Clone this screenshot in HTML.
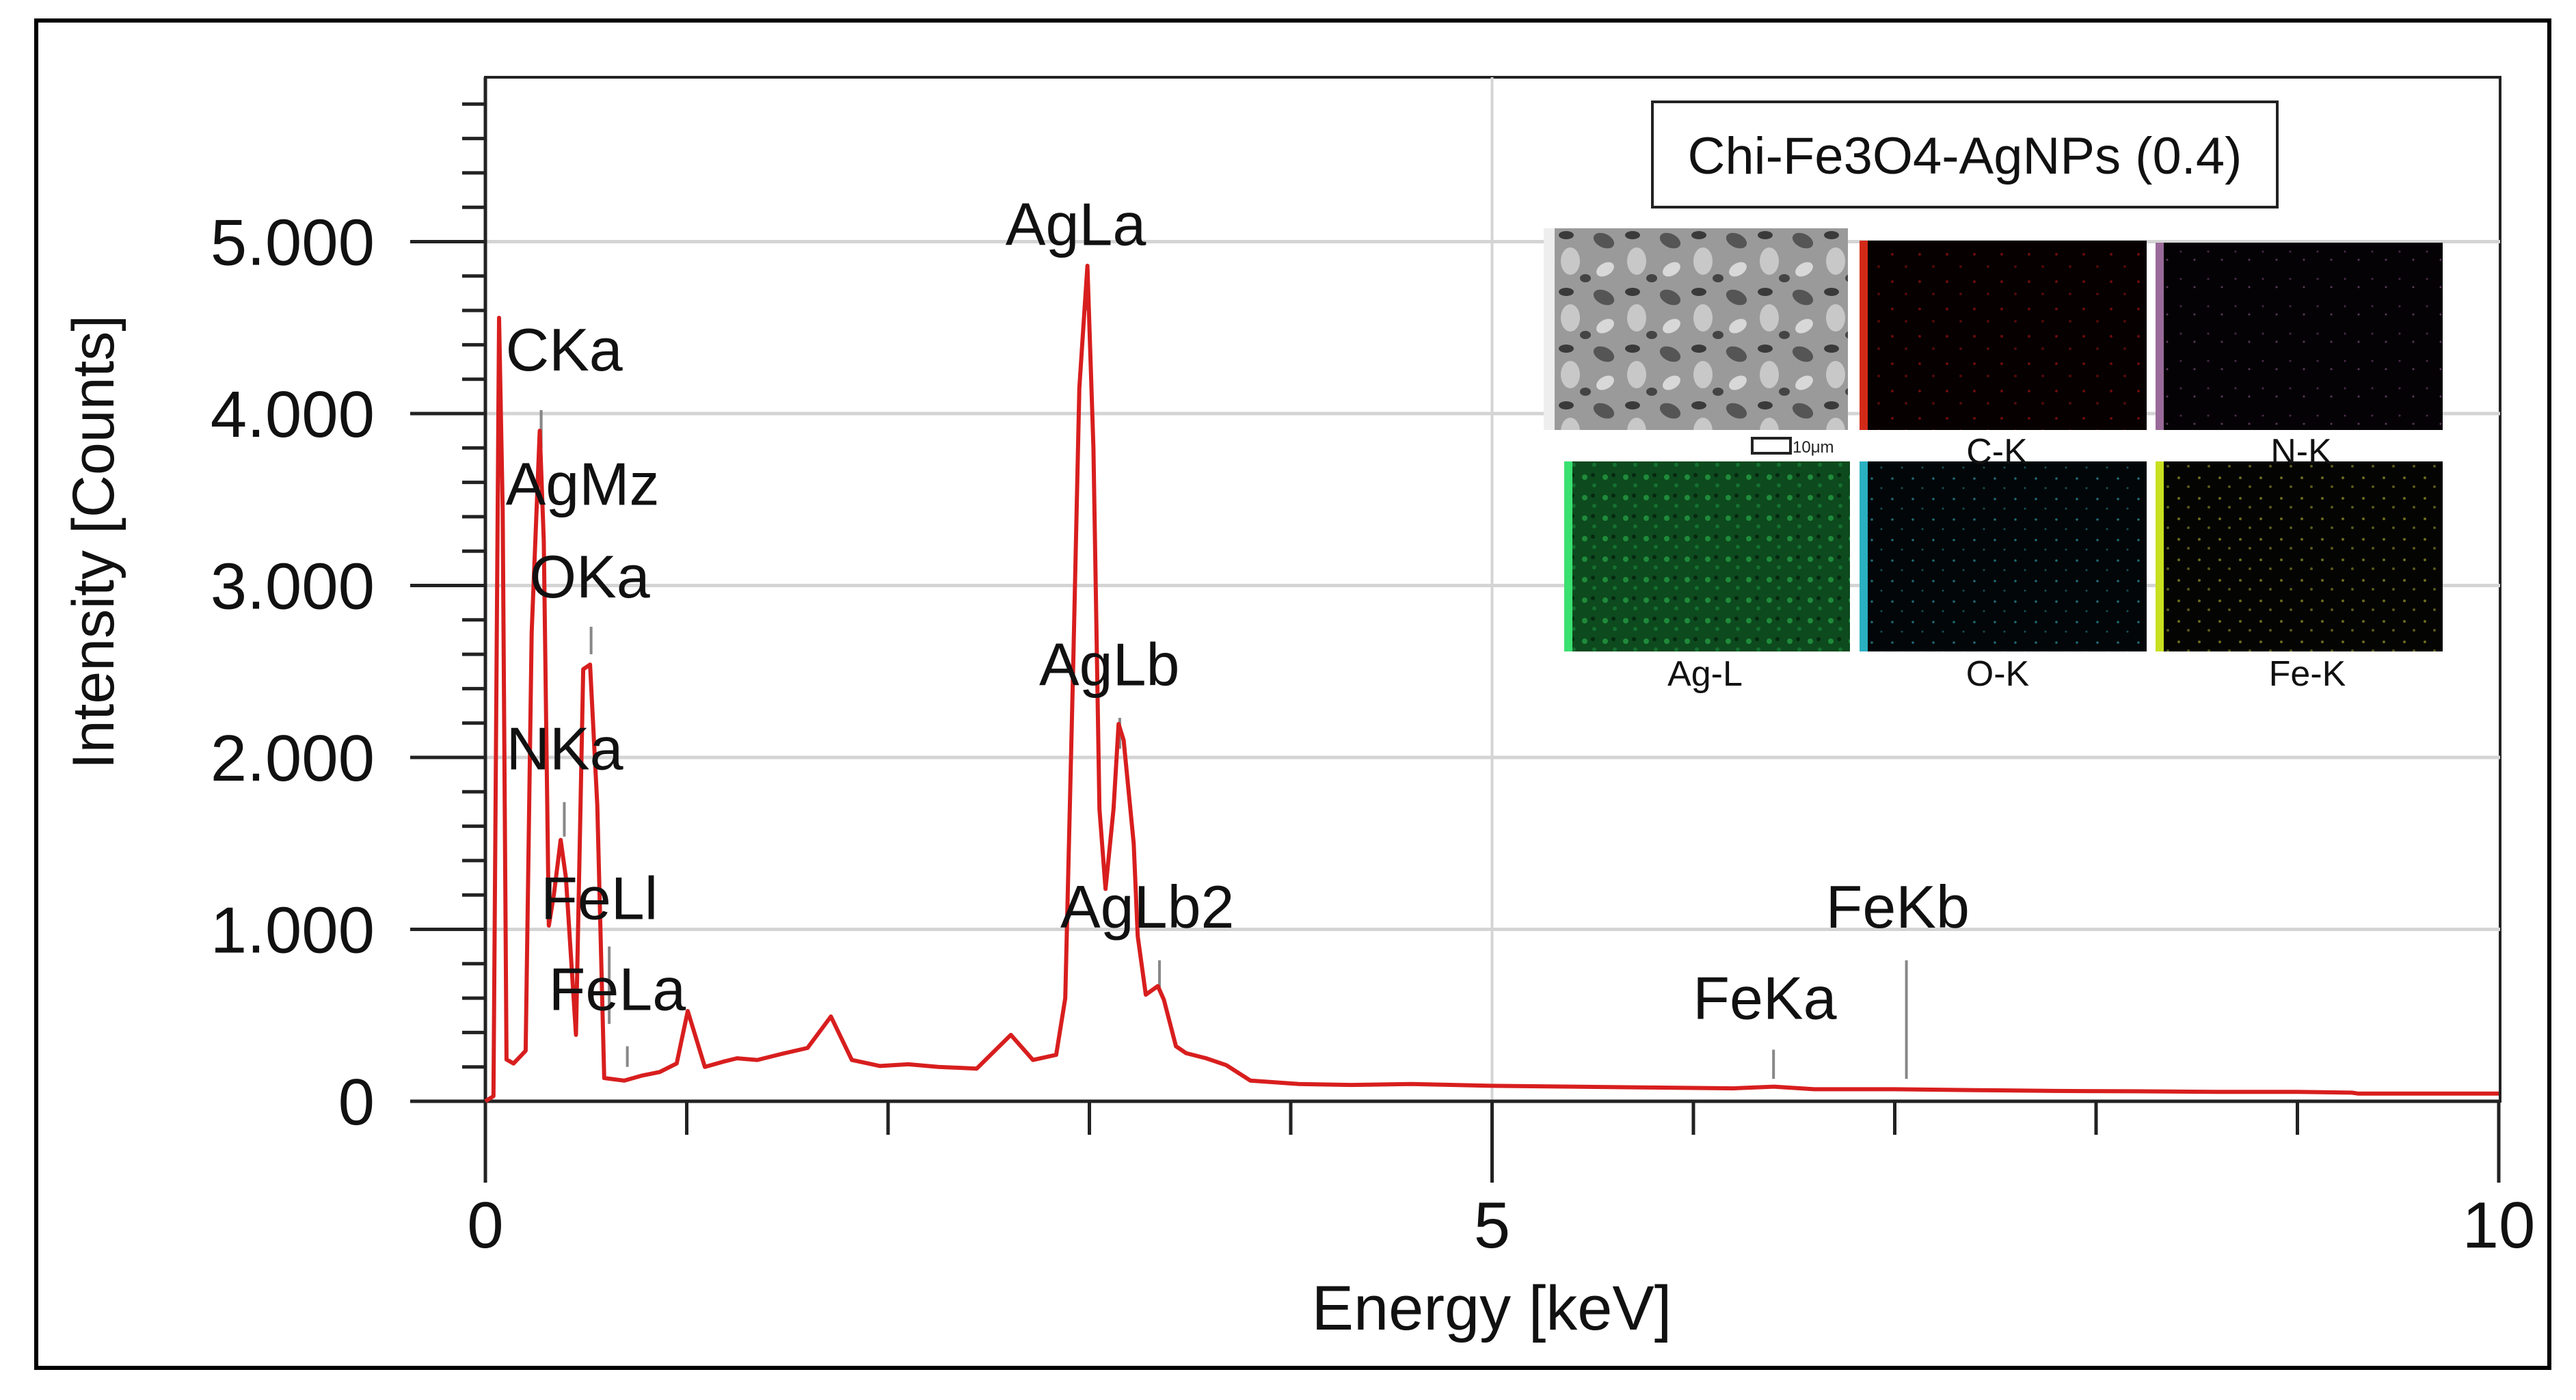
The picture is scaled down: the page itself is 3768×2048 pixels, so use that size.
<!DOCTYPE html>
<html><head><meta charset="utf-8">
<style>
html,body{margin:0;padding:0;background:#fff;}
svg{display:block;}
text{font-family:"Liberation Sans",sans-serif;}
</style></head>
<body>
<svg id="chart" width="3768" height="2048" viewBox="0 0 3768 2048" xmlns="http://www.w3.org/2000/svg">
<defs>
 <pattern id="semPat" width="97" height="83" patternUnits="userSpaceOnUse">
  <rect width="97" height="83" fill="#9a9a9a"/>
  <ellipse cx="18" cy="20" rx="16" ry="10" fill="#555" transform="rotate(25 18 20)"/>
  <ellipse cx="66" cy="50" rx="14" ry="20" fill="#c8c8c8"/>
  <ellipse cx="60" cy="12" rx="11" ry="6" fill="#3a3a3a"/>
  <ellipse cx="20" cy="62" rx="14" ry="9" fill="#d8d8d8" transform="rotate(-30 20 62)"/>
  <ellipse cx="88" cy="75" rx="8" ry="6" fill="#444"/>
 </pattern>
 <pattern id="redPat" width="40" height="40" patternUnits="userSpaceOnUse"><rect width="40" height="40" fill="#060000"/><circle cx="8" cy="12" r="2" fill="#6a0a0a"/><circle cx="28" cy="30" r="2" fill="#520808"/></pattern>
 <pattern id="purPat" width="40" height="40" patternUnits="userSpaceOnUse"><rect width="40" height="40" fill="#050205"/><circle cx="10" cy="20" r="1.5" fill="#5a3a5a"/><circle cx="30" cy="8" r="1.5" fill="#4a2a4a"/></pattern>
 <pattern id="grnPat" width="30" height="30" patternUnits="userSpaceOnUse"><rect width="30" height="30" fill="#0d4a1e"/><circle cx="8" cy="8" r="4" fill="#1f8a3a"/><circle cx="22" cy="20" r="3" fill="#157030"/><circle cx="20" cy="5" r="3" fill="#062810"/></pattern>
 <pattern id="cyPat" width="30" height="30" patternUnits="userSpaceOnUse"><rect width="30" height="30" fill="#020608"/><circle cx="8" cy="10" r="1.8" fill="#1e6a74"/><circle cx="22" cy="24" r="1.5" fill="#155058"/></pattern>
 <pattern id="yelPat" width="30" height="30" patternUnits="userSpaceOnUse"><rect width="30" height="30" fill="#040402"/><circle cx="7" cy="9" r="2" fill="#6a6a1e"/><circle cx="21" cy="22" r="2" fill="#58581a"/></pattern>
</defs>
<rect x="53" y="30" width="3676" height="1971" fill="#fff" stroke="#000" stroke-width="6"/>
<g id="grid"></g>
<g id="axes"></g>
<g id="markers"></g>
<path id="spectrum" fill="none" stroke="#d81e1e" stroke-width="6" stroke-linejoin="round"/>
<g id="labels"></g>

<g>
 <rect x="2417" y="149" width="914" height="154" fill="#fff" stroke="#222" stroke-width="4"/>
 <text x="2874" y="254" font-size="76" text-anchor="middle" fill="#111">Chi-Fe3O4-AgNPs (0.4)</text>
 <rect x="2258" y="334" width="445" height="295" fill="url(#semPat)"/>
 <rect x="2258" y="334" width="16" height="295" fill="#eee"/>
 <rect x="2720" y="352" width="420" height="277" fill="url(#redPat)"/>
 <rect x="2720" y="352" width="12" height="277" fill="#d32a18"/>
 <rect x="3153" y="355" width="420" height="274" fill="url(#purPat)"/>
 <rect x="3153" y="355" width="12" height="274" fill="#9a6a9a"/>
 <rect x="2288" y="675" width="418" height="278" fill="url(#grnPat)"/>
 <rect x="2288" y="675" width="12" height="278" fill="#3ae070"/>
 <rect x="2720" y="675" width="420" height="278" fill="url(#cyPat)"/>
 <rect x="2720" y="675" width="12" height="278" fill="#2ab0c0"/>
 <rect x="3153" y="675" width="420" height="278" fill="url(#yelPat)"/>
 <rect x="3153" y="675" width="12" height="278" fill="#c8e020"/>
 <rect x="2563" y="641" width="56" height="22" fill="none" stroke="#222" stroke-width="4"/>
 <text x="2622" y="662" font-size="24" fill="#222">10μm</text>
 <g font-size="52" text-anchor="middle" fill="#111">
  <text x="2921" y="678">C-K</text>
  <text x="3366" y="678">N-K</text>
  <text x="2494" y="1003">Ag-L</text>
  <text x="2922" y="1003">O-K</text>
  <text x="3375" y="1003">Fe-K</text>
 </g>
</g>
</svg>
<script>
// ---- data ----
const energies = [0,0.04,0.068,0.086,0.105,0.14,0.2,0.23,0.27,0.29,0.315,0.34,0.374,0.4,0.45,0.486,0.52,0.556,0.59,0.69,0.78,0.866,0.95,1.005,1.09,1.18,1.25,1.35,1.48,1.6,1.716,1.82,1.96,2.1,2.25,2.44,2.61,2.72,2.835,2.88,2.92,2.95,2.99,3.02,3.05,3.08,3.12,3.145,3.17,3.22,3.24,3.28,3.34,3.37,3.43,3.48,3.58,3.68,3.8,4.04,4.3,4.6,5.0,5.4,5.8,6.2,6.4,6.6,7.0,7.4,7.8,8.2,8.6,9.0,9.27,9.3,10];
const counts   = [0,30,4557,3440,243,220,294,2727,3900,3260,1022,1200,1520,1300,386,2513,2540,1720,135,120,150,170,220,525,200,230,250,240,278,310,493,240,205,215,200,190,386,240,270,600,2550,4150,4860,3800,1700,1235,1700,2195,2100,1500,960,620,670,590,320,280,250,210,120,100,95,100,90,85,80,75,85,70,70,65,60,58,55,55,50,45,45];
const yTicks = [0,1000,2000,3000,4000,5000];
const yTickLabels = ["0","1.000","2.000","3.000","4.000","5.000"];
const xTicks = [0,5,10];
const xTickLabels = ["0","5","10"];
const peakNames = ["CKa","AgMz","OKa","NKa","FeLl","FeLa","AgLa","AgLb","AgLb2","FeKa","FeKb"];
const peakEnergies = [0.277,0.277,0.525,0.392,0.615,0.705,2.984,3.151,3.348,6.398,7.058];
const peakLabelCounts = [4250,3470,2930,1930,1060,530,4980,2420,1010,480,1010];
const markerTop = [4020,4020,2760,1740,900,320,4800,2230,820,300,820];
const markerBottom = [3800,3800,2600,1540,450,200,4600,2050,650,130,130];
// ---- axes ----
const X0=710, PX=294.5, Y0=1611, PY=0.2515;
const xs = e => X0 + e*PX;
const ys = c => Y0 - c*PY;
const NS="http://www.w3.org/2000/svg";
function mk(tag, parent, attrs){const el=document.createElementNS(NS,tag);for(const k in attrs)el.setAttribute(k,attrs[k]);parent.appendChild(el);return el;}
const grid=document.getElementById('grid'), axes=document.getElementById('axes');
const L=710, R=3657, T=113;
let fr=mk('rect',grid,{x:L,y:T,width:R-L,height:Y0-T,fill:'none',stroke:'#222','stroke-width':4});


yTicks.forEach((v,i)=>{
  if(v>0){const g=mk('line',grid,{x1:L,x2:R,y1:ys(v),y2:ys(v),stroke:'#d4d4d4','stroke-width':5});
  
  }
  const t=mk('line',axes,{x1:600,x2:L,y1:ys(v),y2:ys(v),stroke:'#222','stroke-width':5});
  
  
  const tx=mk('text',axes,{x:548,y:ys(v)+34,'font-size':96,'text-anchor':'end',fill:'#111'});
  tx.textContent=yTickLabels[i];
  
  
});
for(let v=200; v<=5800; v+=200){ if(v%1000===0) continue;
  const t=mk('line',axes,{x1:676,x2:L,y1:ys(v),y2:ys(v),stroke:'#222','stroke-width':5});
  
  
}
const vg=mk('line',grid,{x1:xs(5),x2:xs(5),y1:T,y2:Y0,stroke:'#d4d4d4','stroke-width':4});


const ya=mk('line',axes,{x1:L,x2:L,y1:T,y2:1730,stroke:'#222','stroke-width':5});


const xa=mk('line',axes,{x1:600,x2:R,y1:Y0,y2:Y0,stroke:'#222','stroke-width':5});


for(let e=1;e<=10;e++){
  const t=mk('line',axes,{x1:xs(e),x2:xs(e),y1:Y0,y2:(e%5===0)?1730:1660,stroke:'#222','stroke-width':5});
  
  
}
xTicks.forEach((v,i)=>{
  const tx=mk('text',axes,{x:xs(v),y:1825,'font-size':96,'text-anchor':'middle',fill:'#111'});
  tx.textContent=xTickLabels[i];
  
  
});
const xt=mk('text',axes,{x:2182,y:1945,'font-size':92,'text-anchor':'middle',fill:'#111'});
xt.textContent='Energy [keV]';


const yt=mk('text',axes,{x:0,y:0,'font-size':86,'text-anchor':'middle',fill:'#111',transform:'translate(166,793) rotate(-90)'});
yt.textContent='Intensity [Counts]';


let d='';
energies.forEach((e,i)=>{d+=(i?'L':'M')+xs(e).toFixed(1)+' '+ys(counts[i]).toFixed(1);});
document.getElementById('spectrum').setAttribute('d',d);
const mg=document.getElementById('markers'), lg=document.getElementById('labels');
const labelDx=[-52,-52,-90,-85,-100,-115,-118,-118,-145,-118,-118];
peakNames.forEach((n,i)=>{
  const m=mk('line',mg,{x1:xs(peakEnergies[i]),x2:xs(peakEnergies[i]),y1:ys(markerTop[i]),y2:ys(markerBottom[i]),stroke:'#888','stroke-width':4});
  
  
  const t=mk('text',lg,{x:xs(peakEnergies[i])+labelDx[i],y:ys(peakLabelCounts[i]),'font-size':88,fill:'#111'});
  t.textContent=n;
  
  
});
</script>
</body></html>
